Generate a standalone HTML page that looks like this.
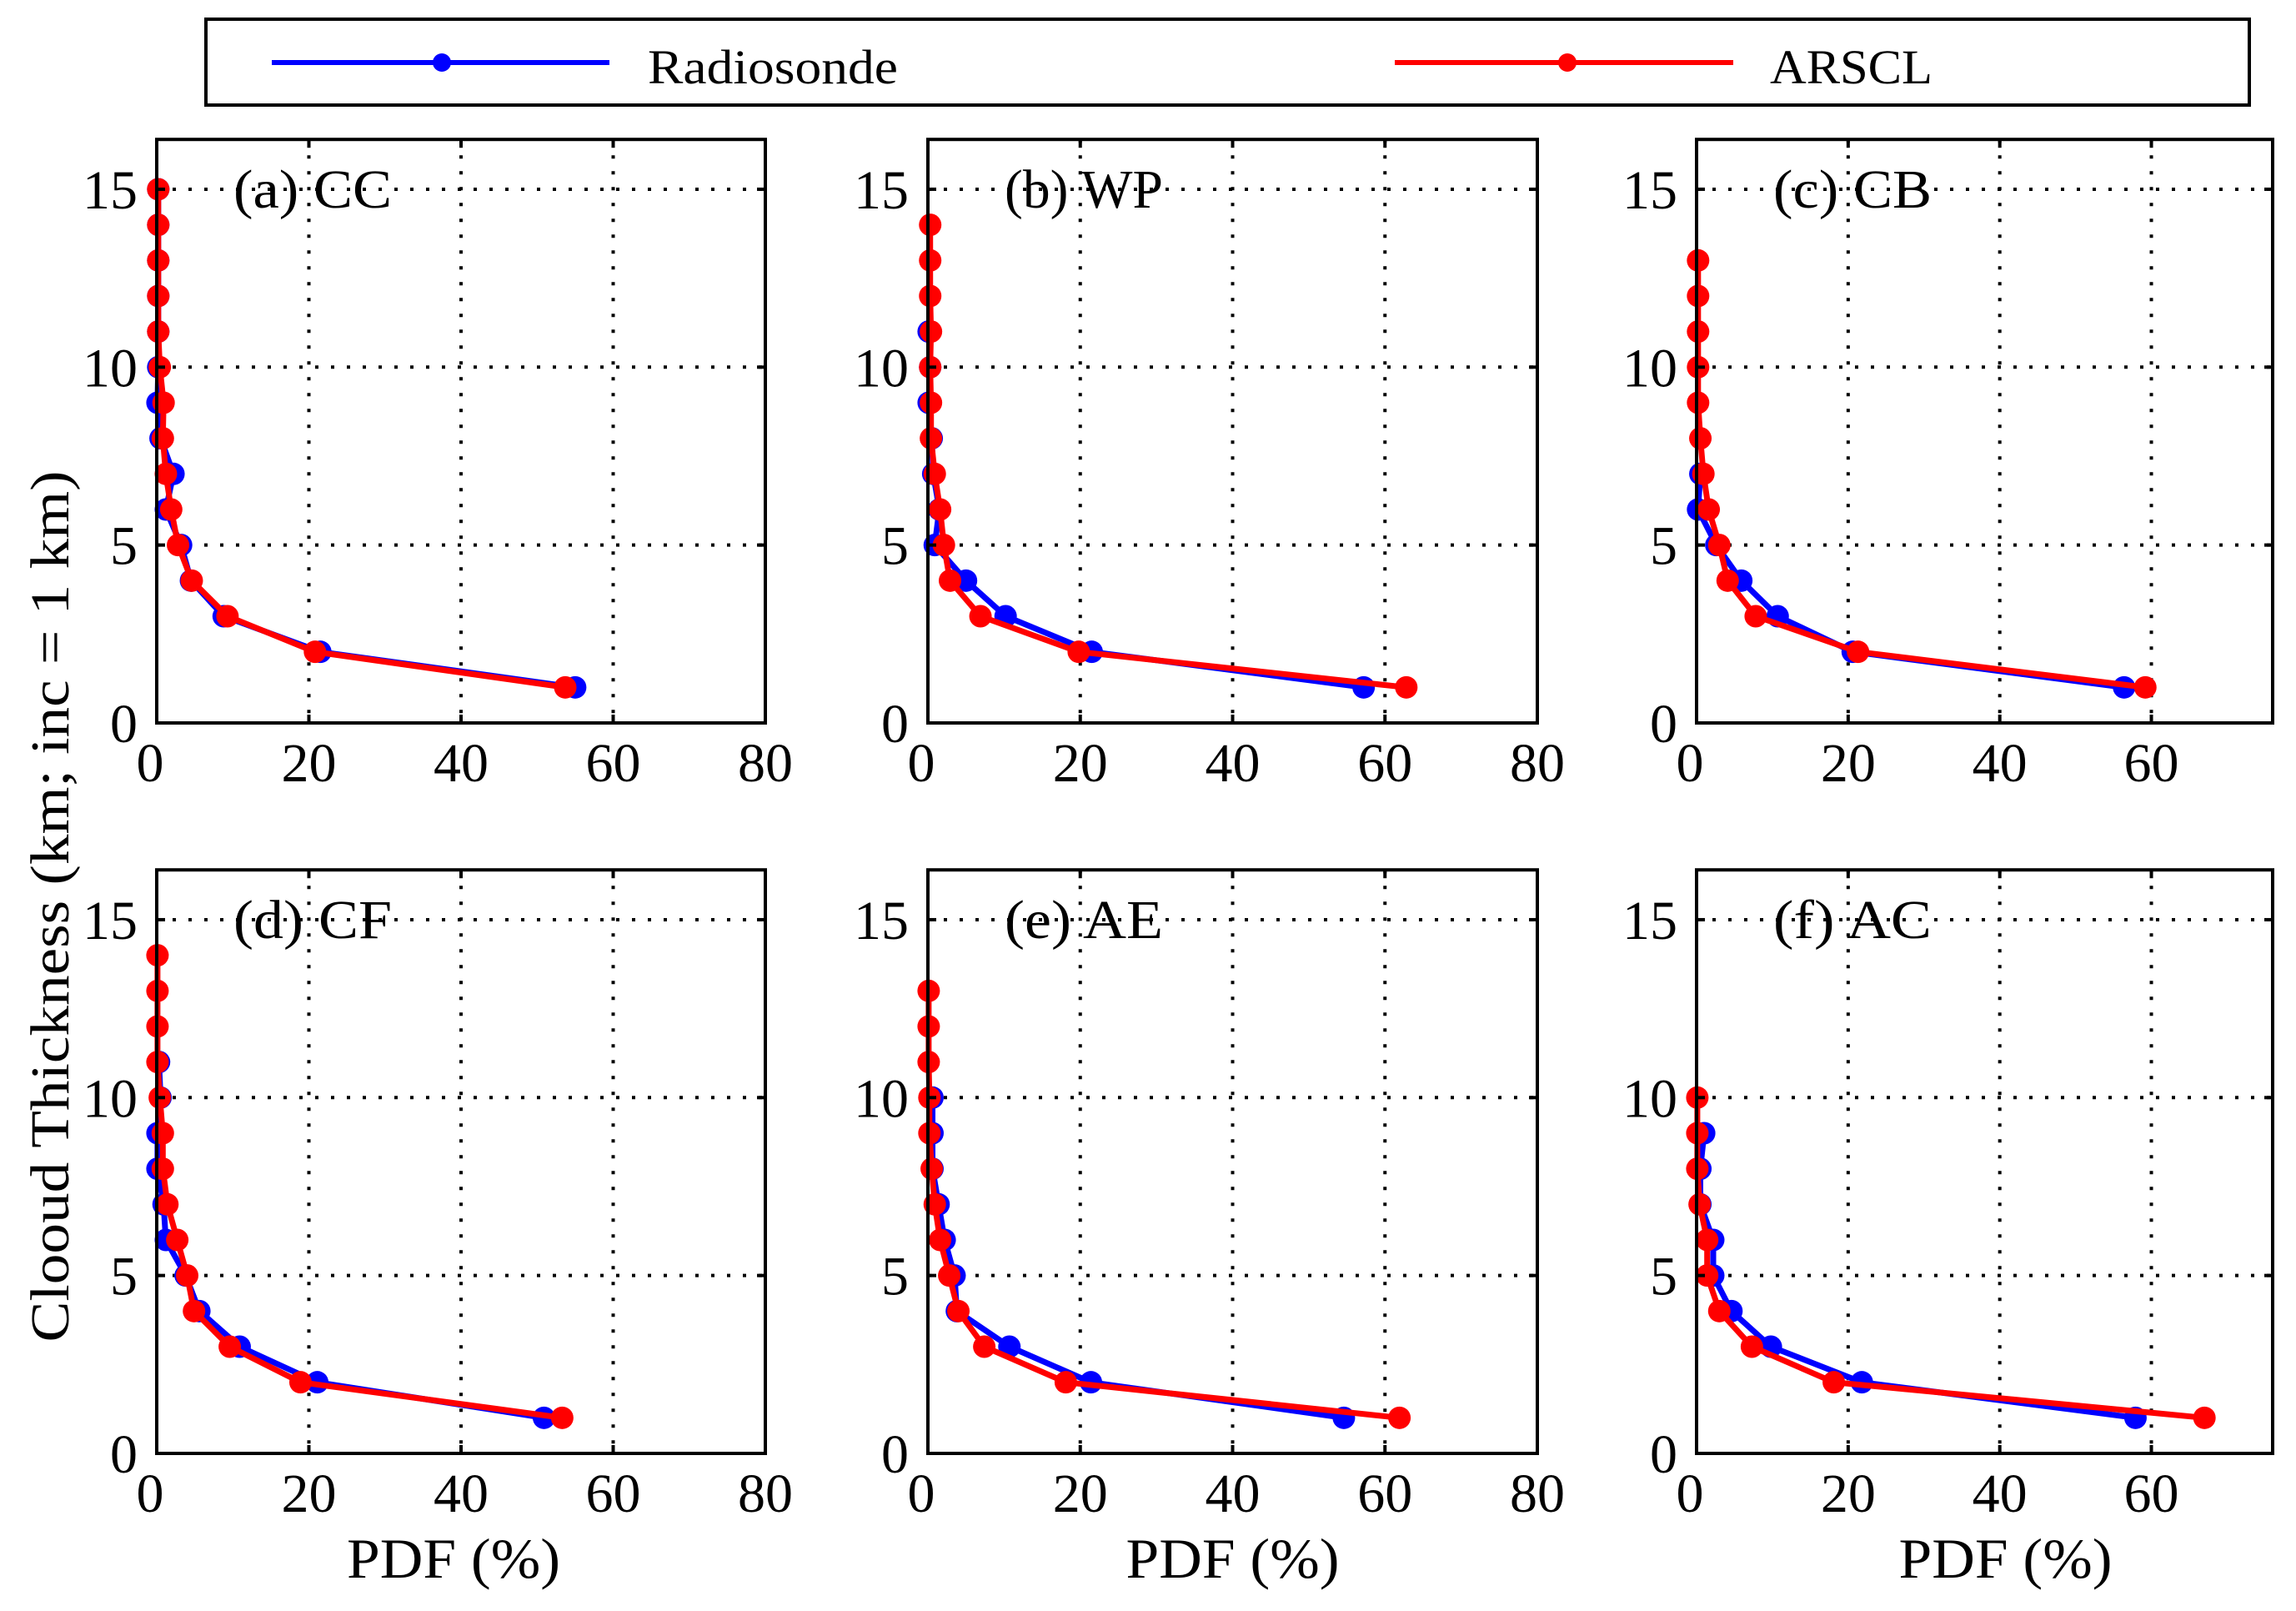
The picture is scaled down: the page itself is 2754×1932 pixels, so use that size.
<!DOCTYPE html>
<html><head><meta charset="utf-8">
<style>
html,body{margin:0;padding:0;background:#fff;}
svg{display:block;}
text{font-family:"Liberation Serif","DejaVu Serif",serif;fill:#000;}
</style></head>
<body>
<svg id="fig" xmlns="http://www.w3.org/2000/svg" width="2754" height="1932" viewBox="0 0 2754 1932">
  <rect x="0" y="0" width="2754" height="1932" fill="#fff"/>
  <g>
    <rect x="247" y="23" width="2451" height="103" fill="#fff" stroke="#000" stroke-width="4"/>
    <g>
      <line x1="326" y1="75" x2="731" y2="75" stroke="#0000ff" stroke-width="6"/>
      <circle cx="530" cy="75" r="11" fill="#0000ff"/>
      <text x="777" y="100" font-size="58" textLength="300" lengthAdjust="spacingAndGlyphs">Radiosonde</text>
    </g>
    <g>
      <line x1="1673" y1="75" x2="2079" y2="75" stroke="#ff0000" stroke-width="6"/>
      <circle cx="1880" cy="75" r="11" fill="#ff0000"/>
      <text x="2123" y="100" font-size="58" textLength="195" lengthAdjust="spacingAndGlyphs">ARSCL</text>
    </g>
  </g>
  <text x="0" y="0" font-size="66" text-anchor="middle" textLength="1045" lengthAdjust="spacingAndGlyphs" transform="translate(82,1087) rotate(-90)">Clooud Thickness (km; inc = 1 km)</text>
  <g id="panels"></g>
</svg>
<script>
// Heights (km) for index i -> i+1
const heights = [1,2,3,4,5,6,7,8,9,10,11,12,13,14,15];
const panelLabels = ["(a) CC","(b) WP","(c) CB","(d) CF","(e) AE","(f) AC"];
const yTickLabels = [0,5,10,15];
const xTickLabelsWide = [0,20,40,60,80];
const xTickLabelsNarrow = [0,20,40,60];
// Series values (PDF %), index i corresponds to height i+1
const redA = [53.7,20.8,9.3,4.6,2.8,1.9,1.2,0.8,0.9,0.4,0.2,0.2,0.2,0.2,0.2];
const blueA = [55,21.5,8.8,4.5,3.2,1.2,2.2,0.5,0.1,0.2,0.2,0.2,0.2,0.2,0.2];
const redB = [62.8,19.8,6.9,2.9,2.1,1.6,0.9,0.4,0.4,0.3,0.4,0.3,0.3,0.3];
const blueB = [57.2,21.5,10.2,5,0.9,1.5,0.7,0.5,0.1,0.3,0.1];
const redC = [59.2,21.3,7.8,4.1,3.0,1.6,0.9,0.5,0.2,0.2,0.2,0.2,0.2];
const blueC = [56.4,20.6,10.7,5.9,2.6,0.2,0.5];
const redD = [53.3,18.9,9.6,4.9,4.0,2.7,1.4,0.8,0.8,0.4,0.1,0.1,0.1,0.1];
const blueD = [50.9,21.1,10.9,5.6,3.8,1.2,0.9,0.1,0.1,0.5,0.3];
const redE = [61.9,18.1,7.4,4.0,2.8,1.6,0.9,0.5,0.2,0.2,0.1,0.1,0.1];
const blueE = [54.6,21.4,10.7,3.8,3.5,2.2,1.4,0.6,0.6,0.6];
const redF = [67,18.1,7.3,3.0,1.4,1.4,0.4,0.1,0.1,0.1];
const blueF = [57.9,21.8,9.8,4.6,2.2,2.2,0.5,0.5,1.0];

const reds = [redA,redB,redC,redD,redE,redF];
const blues = [blueA,blueB,blueC,blueD,blueE,blueF];

const NS = "http://www.w3.org/2000/svg";
const root = document.getElementById("panels");
const colLeft = [188,1113,2035];
const colWidth = [730,731,691];
const colXmax = [80,80,76];
const titleShift = [-9,0,25];
const rowY0 = [867,1743];
const yUnit = 42.67;
const yMax = 16.4;

function mk(tag, attrs, parent){
  const e = document.createElementNS(NS, tag);
  for (const k in attrs) e.setAttribute(k, attrs[k]);
  parent.appendChild(e);
  return e;
}

for (let p = 0; p < 6; p++) {
  const col = p % 3, row = Math.floor(p / 3);
  const L = colLeft[col], W = colWidth[col], xmax = colXmax[col];
  const y0 = rowY0[row];
  const T = y0 - yMax * yUnit;
  const R = L + W;
  const sx = v => L + v / xmax * W;
  const sy = v => y0 - v * yUnit;
  const g = mk("g", {}, root);
  
  

  const xt = xmax === 80 ? xTickLabelsWide : xTickLabelsNarrow;
  const grid = mk("g", {stroke:"#000","stroke-width":4,"stroke-dasharray":"4 15"}, g);
  
  
  xt.forEach(v => { if (v > 0 && v < xmax) mk("line",{x1:sx(v),y1:T,x2:sx(v),y2:y0},grid); });
  yTickLabels.forEach(v => { if (v > 0) mk("line",{x1:L,y1:sy(v),x2:R,y2:sy(v)},grid); });

  const series = [[blues[p],"#0000ff","radiosonde"],[reds[p],"#ff0000","arscl"]];
  series.forEach(([vals,color,nm]) => {
    const pts = vals.map((v,i) => sx(v).toFixed(1) + "," + sy(heights[i]).toFixed(1)).join(" ");
    const pl = mk("polyline",{points:pts,fill:"none",stroke:color,"stroke-width":7,"stroke-linejoin":"round"},g);
    
    
    vals.forEach((v,i) => {
      const c = mk("circle",{cx:sx(v),cy:sy(heights[i]),r:13.5,fill:color},g);
      
      
    });
  });

  const tk = mk("g",{stroke:"#000","stroke-width":4},g);
  
  
  xt.forEach(v => { if (v > 0 && v < xmax) { mk("line",{x1:sx(v),y1:y0,x2:sx(v),y2:y0-10},tk); mk("line",{x1:sx(v),y1:T,x2:sx(v),y2:T+10},tk);} });
  yTickLabels.forEach(v => { if (v > 0) { mk("line",{x1:L,y1:sy(v),x2:L+10,y2:sy(v)},tk); mk("line",{x1:R,y1:sy(v),x2:R-10,y2:sy(v)},tk);} });

  const fr = mk("rect",{x:L,y:T,width:W,height:y0-T,fill:"none",stroke:"#000","stroke-width":4},g);
  
  

  yTickLabels.forEach(v => {
    const t = mk("text",{x:L-23,y:sy(v)+23,"font-size":66,"text-anchor":"end"},g);
    t.textContent = v;
    
    
  });
  xt.forEach(v => {
    const t = mk("text",{x:sx(v) - (v===0?8:0),y:y0+70,"font-size":66,"text-anchor":"middle"},g);
    t.textContent = v;
    
    
  });

  const lb = mk("text",{x:L+92,y:sy(15)+22,"font-size":66,textLength:190,lengthAdjust:"spacingAndGlyphs"},g);
  lb.textContent = panelLabels[p];
  
  

  if (row === 1) {
    const xl = mk("text",{x:L+W/2 + titleShift[col],y:1892,"font-size":68,"text-anchor":"middle",textLength:256,lengthAdjust:"spacingAndGlyphs"},g);
    xl.textContent = "PDF (%)";
    
    
  }
}
</script>
</body></html>
